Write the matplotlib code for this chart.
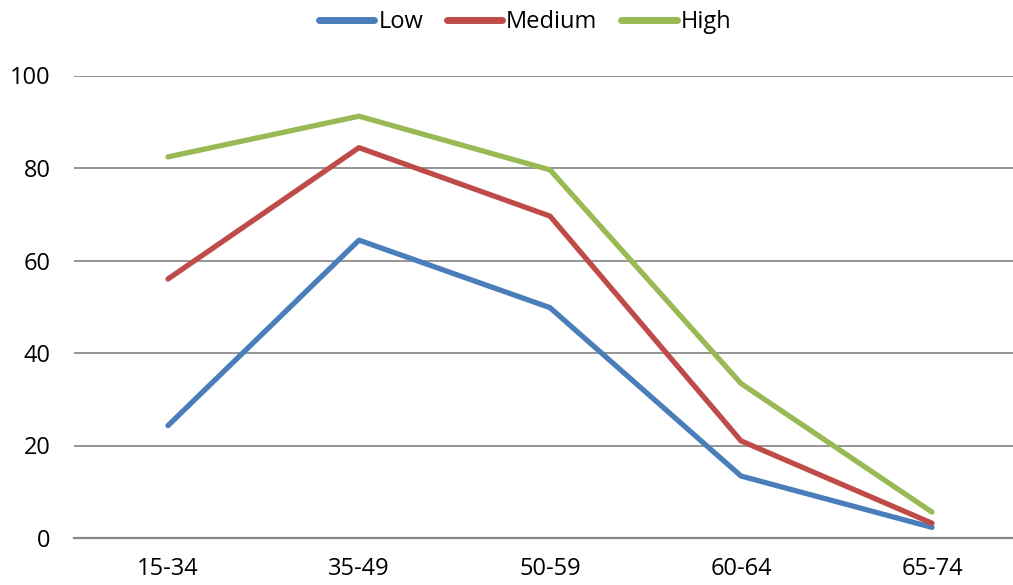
import matplotlib
matplotlib.use("Agg")
import matplotlib.pyplot as plt

ages = ["15-34", "35-49", "50-59", "60-64", "65-74"]
low = [24.3, 64.4, 49.8, 13.4, 2.3]
medium = [56.0, 84.4, 69.6, 21.0, 3.2]
high = [82.4, 91.2, 79.6, 33.4, 5.6]
yticks = [0, 20, 40, 60, 80, 100]

plt.rcParams['font.family'] = ['Open Sans', 'DejaVu Sans']

fig = plt.figure(figsize=(10.13, 5.85), dpi=100)
ax = fig.add_axes([74/1013, 1 - 538/585, 1 - 74/1013, (538-75.5)/585])

x = range(len(ages))
ax.plot(x, low, color="#4A7EBB", lw=3.8, label="Low", solid_capstyle="round")
ax.plot(x, medium, color="#BE4B48", lw=3.8, label="Medium", solid_capstyle="round")
ax.plot(x, high, color="#98B954", lw=3.8, label="High", solid_capstyle="round")

ax.set_ylim(0, 100)
ax.set_xlim(-0.492, 4.424)
ax.set_yticks(yticks)
ax.set_xticks(list(x))
ax.set_xticklabels(ages)
ax.yaxis.grid(True, color="#8c8c8c", lw=1.3)
ax.set_axisbelow(True)
for s in ["top", "right", "left"]:
    ax.spines[s].set_visible(False)
ax.spines["bottom"].set_color("#868686")
ax.spines["bottom"].set_linewidth(1.6)
ax.tick_params(axis="both", length=0, labelsize=17)
ax.tick_params(axis="y", pad=17)
ax.tick_params(axis="x", pad=14)

leg = fig.legend(loc="center", bbox_to_anchor=(525/1013, 1 - 22/585), ncol=3,
                 frameon=False, fontsize=17, handlelength=2.35, handletextpad=0.17,
                 columnspacing=1.0)
for h in leg.get_lines():
    h.set_linewidth(5)

fig.savefig("out.png", dpi=100)
